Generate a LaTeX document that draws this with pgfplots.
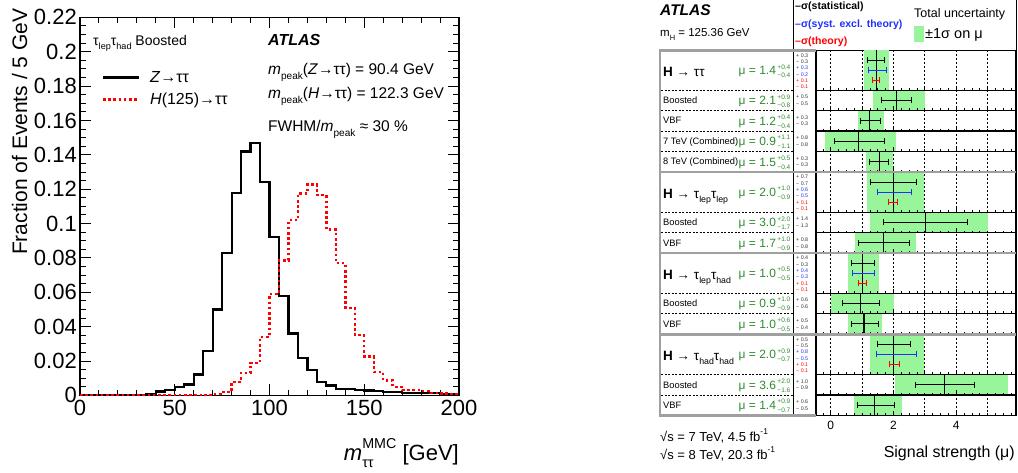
\documentclass[border=0pt]{standalone}
\usepackage{pgfplots}
\pgfplotsset{compat=1.18}
\usepackage{fontspec}
\setmainfont{Liberation Sans}
\definecolor{boxgreen}{HTML}{99F599}
\definecolor{txtgreen}{HTML}{2E8B2E}
\definecolor{sysblue}{HTML}{2030FF}
\definecolor{sepgray}{HTML}{A0A0A0}
\definecolor{numgray}{HTML}{333333}
\newcommand\fs[1]{\fontsize{#1}{#1}\selectfont}
\newcommand\lo[1]{\raisebox{-0.3em}{\scalebox{0.65}{#1}}}
\newcommand\hi[1]{\raisebox{0.55em}{\scalebox{0.65}{#1}}}
% number column entry: y, colour, text
\newcommand\nc[3]{\node[anchor=west,inner sep=0pt,font=\fs{5.3},text=#2] at (796,#1) {#3};}
% mu label: row middle, value, up, down
\newcommand\mulab[4]{%
  \node[anchor=base west,inner sep=0pt,font=\fs{12},text=txtgreen] at (738.5,{#1+4.5})
    {μ = #2\hspace{1.5pt}\makebox[0pt][l]{\raisebox{5.8pt}{\fs{6.5}#3}}\raisebox{-3pt}{\fs{6.5}#4}};}

\begin{document}
\begin{tikzpicture}
\begin{scope}[x=1pt,y=-1pt]
\path[use as bounding box] (0,0) rectangle (1018,472);
\end{scope}

% ---------------- left: mass distributions
\begin{axis}[
  at={(80pt,-395pt)}, anchor=south west,
  scale only axis, width=379pt, height=378pt,
  xmin=0, xmax=200, ymin=0, ymax=0.22,
  xtick={0,50,100,150,200}, xticklabels={0,50,100,150,200},
  minor x tick num=4,
  ytick={0,0.02,0.04,0.06,0.08,0.1,0.12,0.14,0.16,0.18,0.2,0.22},
  yticklabels={0,0.02,0.04,0.06,0.08,0.1,0.12,0.14,0.16,0.18,0.2,0.22},
  minor y tick num=3,
  major tick length=11pt, minor tick length=5.5pt,
  tick style={black,line width=1pt},
  axis line style={line width=1.2pt},
  /pgf/number format/assume math mode=true,
  ticklabel style={font=\fs{22}},
  xticklabel style={inner sep=0pt,yshift=-5pt},
  yticklabel style={inner sep=0pt,xshift=-3pt},
  ylabel={Fraction of Events / 5 GeV},
  ylabel style={at={(axis description cs:-0.1398,1.0238)},anchor=base east,font=\fs{21},inner sep=0pt},
  xlabel={\textit{m}\makebox[0pt][l]{\lo{ττ}}\hi{MMC} [GeV]},
  xlabel style={at={(axis description cs:1,-0.172)},anchor=base east,font=\fs{22},inner sep=0pt},
]
\addplot[const plot, black, line width=2.2pt] coordinates {
 (0,0) (5,0) (10,0) (15,0) (20,0) (25,0) (30,0) (35,0.001) (40,0.0023) (45,0.003)
 (50,0.005) (55,0.0064) (60,0.0122) (65,0.0258) (70,0.050) (75,0.083) (80,0.118)
 (85,0.142) (90,0.147) (95,0.124) (100,0.092) (105,0.058) (110,0.036) (115,0.022)
 (120,0.015) (125,0.0078) (130,0.0058) (135,0.0039) (140,0.0035) (145,0.003)
 (150,0.0028) (155,0.0025) (160,0.002) (165,0.002) (170,0.0015) (175,0.0015)
 (180,0.0015) (185,0.0012) (190,0.001) (195,0.001) (200,0.001)};
\addplot[const plot, red, line width=2.4pt, dash pattern=on 2.6pt off 2.6pt] coordinates {
 (0,0) (5,0) (10,0) (15,0) (20,0) (25,0) (30,0) (35,0) (40,0) (45,0) (50,0) (55,0)
 (60,0) (65,0.0003) (70,0.0008) (75,0.002) (80,0.0078) (85,0.013) (90,0.019)
 (95,0.034) (100,0.059) (105,0.0786) (110,0.102) (115,0.1175) (120,0.1227)
 (125,0.1165) (130,0.0965) (135,0.077) (140,0.051) (145,0.035) (150,0.0227)
 (155,0.0136) (160,0.0087) (165,0.005) (170,0.003) (175,0.003) (180,0.0025)
 (185,0.0015) (190,0.001) (195,0.0008) (200,0.0008)};
\end{axis}

% ---------------- right: signal strengths
\begin{axis}[
  at={(816pt,-415pt)}, anchor=south west,
  scale only axis, width=200pt, height=365pt,
  xmin=-0.47, xmax=5.91, ymin=50, ymax=415, y dir=reverse,
  axis line style={line width=1.2pt},
  ytick=\empty,
  xtick={0,1,2,3,4,5}, xticklabels={0,,2,,4,},
  major tick length=0pt,
  grid=major, grid style={black,line width=0.8pt,dash pattern=on 1.2pt off 2.8pt},
  ticklabel style={font=\fs{12},inner sep=0pt,yshift=-5.5pt},
  clip=false,
]
% total uncertainty boxes
\addplot[fill=boxgreen,draw=none] coordinates {(1.06,50) (1.87,50) (1.87,90) (1.06,90)} --cycle;
\addplot[fill=boxgreen,draw=none] coordinates {(1.36,90) (3.01,90) (3.01,110) (1.36,110)} --cycle;
\addplot[fill=boxgreen,draw=none] coordinates {(0.88,110) (1.70,110) (1.70,130.5) (0.88,130.5)} --cycle;
\addplot[fill=boxgreen,draw=none] coordinates {(-0.18,130.5) (2.08,130.5) (2.08,150.7) (-0.18,150.7)} --cycle;
\addplot[fill=boxgreen,draw=none] coordinates {(1.14,150.7) (1.98,150.7) (1.98,171.7) (1.14,171.7)} --cycle;
\addplot[fill=boxgreen,draw=none] coordinates {(1.15,171.7) (2.96,171.7) (2.96,211.7) (1.15,211.7)} --cycle;
\addplot[fill=boxgreen,draw=none] coordinates {(1.25,211.7) (5.01,211.7) (5.01,232.2) (1.25,232.2)} --cycle;
\addplot[fill=boxgreen,draw=none] coordinates {(0.78,232.2) (2.72,232.2) (2.72,252.7) (0.78,252.7)} --cycle;
\addplot[fill=boxgreen,draw=none] coordinates {(0.56,252.7) (1.55,252.7) (1.55,292.7) (0.56,292.7)} --cycle;
\addplot[fill=boxgreen,draw=none] coordinates {(0.00,292.7) (2.02,292.7) (2.02,313) (0.00,313)} --cycle;
\addplot[fill=boxgreen,draw=none] coordinates {(0.56,313) (1.63,313) (1.63,334) (0.56,334)} --cycle;
\addplot[fill=boxgreen,draw=none] coordinates {(1.25,334) (2.96,334) (2.96,374) (1.25,374)} --cycle;
\addplot[fill=boxgreen,draw=none] coordinates {(2.05,374) (5.65,374) (5.65,394.5) (2.05,394.5)} --cycle;
\addplot[fill=boxgreen,draw=none] coordinates {(0.75,394.5) (2.27,394.5) (2.27,415) (0.75,415)} --cycle;
% central values
\addplot[draw=none, mark=none, error bars/.cd, y dir=both, y explicit, error mark=none,
  error bar style={draw=black,line width=1.1pt}] coordinates {
 (1.45,70) +- (0,20)  (2.10,100) +- (0,10) (1.25,120.25) +- (0,10.25)
 (0.88,140.6) +- (0,10.1) (1.55,161.2) +- (0,10.5) (2.00,191.7) +- (0,20)
 (3.01,222) +- (0,10.25) (1.68,242.45) +- (0,10.25) (1.01,272.7) +- (0,20)
 (0.96,302.85) +- (0,10.15) (1.06,323.5) +- (0,10.5) (2.00,354) +- (0,20)
 (3.63,384.25) +- (0,10.25) (1.41,404.75) +- (0,10.25)};
% statistical
\addplot[draw=none, mark=none, error bars/.cd, x dir=both, x explicit, error mark=|,
  error bar style={draw=black,line width=1pt},
  error mark options={draw=black,line width=1pt,mark size=3pt}] coordinates {
 (1.45,60) += (0.28,0) -= (0.27,0)
 (2.10,100) += (0.48,0) -= (0.48,0)
 (1.25,120.25) += (0.35,0) -= (0.31,0)
 (0.88,140.6) += (0.85,0) -= (0.75,0)
 (1.55,161.2) += (0.29,0) -= (0.30,0)
 (2.00,181.7) += (0.72,0) -= (0.72,0)
 (3.01,222) += (1.36,0) -= (1.32,0)
 (1.68,242.45) += (0.83,0) -= (0.78,0)
 (1.01,262.7) += (0.37,0) -= (0.34,0)
 (0.96,302.85) += (0.59,0) -= (0.59,0)
 (1.06,323.5) += (0.46,0) -= (0.39,0)
 (2.00,344) += (0.53,0) -= (0.51,0)
 (3.63,384.25) += (0.97,0) -= (0.92,0)
 (1.41,404.75) += (0.61,0) -= (0.55,0)};
% systematic excluding theory
\addplot[draw=none, mark=none, error bars/.cd, x dir=both, x explicit, error mark=|,
  error bar style={draw=sysblue,line width=1pt},
  error mark options={draw=sysblue,line width=1pt,mark size=3pt}] coordinates {
 (1.45,70) += (0.34,0) -= (0.25,0)
 (2.00,191.7) += (0.58,0) -= (0.51,0)
 (1.01,272.7) += (0.39,0) -= (0.31,0)
 (2.00,354) += (0.74,0) -= (0.53,0)};
% theory
\addplot[draw=none, mark=none, error bars/.cd, x dir=both, x explicit, error mark=|,
  error bar style={draw=red,line width=1pt},
  error mark options={draw=red,line width=1pt,mark size=3pt}] coordinates {
 (1.45,80) += (0.12,0) -= (0.12,0)
 (2.00,201.7) += (0.13,0) -= (0.16,0)
 (1.01,282.7) += (0.12,0) -= (0.11,0)
 (2.00,364) += (0.18,0) -= (0.12,0)};
\end{axis}

\begin{scope}[x=1pt,y=-1pt]
% ---- left panel texts
\node[anchor=base west,inner sep=0pt,font=\fs{14}] at (93,45) {τ\lo{lep}τ\lo{had} Boosted};
\draw[black,line width=2.2pt] (103,77) -- (139,77);
\node[anchor=base west,inner sep=0pt,font=\fs{16}] at (150,82) {\textit{Z}→ττ};
\draw[red,line width=2.4pt,dash pattern=on 2.6pt off 2.6pt] (103,99) -- (139,99);
\node[anchor=base west,inner sep=0pt,font=\fs{16}] at (150,104) {\textit{H}(125)→ττ};
\node[anchor=base west,inner sep=0pt,font=\fs{16}\bfseries\itshape] at (268,45) {ATLAS};
\node[anchor=base west,inner sep=0pt,font=\fs{15.5}] at (268,74) {\textit{m}\lo{peak}(\textit{Z}→ττ) = 90.4 GeV};
\node[anchor=base west,inner sep=0pt,font=\fs{15.5}] at (268,98) {\textit{m}\lo{peak}(\textit{H}→ττ) = 122.3 GeV};
\node[anchor=base west,inner sep=0pt,font=\fs{15.5}] at (268,131) {FWHM/\textit{m}\lo{peak} ≈ 30 \%};

% ---- right panel header
\node[anchor=base west,inner sep=0pt,font=\fs{15.5}\bfseries\itshape] at (660,15) {ATLAS};
\node[anchor=base west,inner sep=0pt,font=\fs{11.5}] at (660,36.5) {m\lo{H} = 125.36 GeV};
\node[anchor=base west,inner sep=0pt,font=\fs{10.5}\bfseries] at (795,9.5) {–σ(statistical)};
\node[anchor=base west,inner sep=0pt,font=\fs{10.5}\bfseries,text=sysblue] at (795,27) {–σ(syst. excl. theory)};
\node[anchor=base west,inner sep=0pt,font=\fs{10.5}\bfseries,text=red] at (795,44.5) {–σ(theory)};
\node[anchor=base west,inner sep=0pt,font=\fs{12.5}] at (914,17.3) {Total uncertainty};
\fill[boxgreen] (914,26) rectangle (923.5,42);
\node[anchor=base west,inner sep=0pt,font=\fs{14.5}] at (925,38.5) {±1σ on μ};

% ---- table frame
\draw[black,line width=0.8pt] (793,0) -- (793,415);
\draw[black,line width=0.8pt] (1016,0) -- (1016,50);
\foreach \y in {90,110,130.5,150.7,211.7,232.2,292.7,313,374,394.5}{
  \draw[black,line width=0.6pt,dash pattern=on 2pt off 1.5pt] (661,\y) -- (793,\y);
  \draw[black,line width=1.2pt] (816,\y) -- (1016,\y);
}
\foreach \y in {90,110,130.5,150.7,171.7,211.7,232.2,252.7,292.7,313,334,374,394.5,415}{
  \foreach \m in {-0.25,0.25,0.5,...,1.75,2.25,2.5,...,3.75,4.25,4.5,...,5.75}{
    \draw[black,line width=0.6pt] ({830.73+31.35*\m},\y) -- ++(0,-2);}
  \foreach \m in {0,2,4}{
    \draw[black,line width=0.8pt] ({830.73+31.35*\m},\y) -- ++(0,-4.5);}
}
\foreach \y in {171.7,252.7,334}{
  \draw[sepgray,line width=2.2pt] (660,\y) -- (1016,\y);
}
\draw[sepgray,line width=2.2pt] (816,50) -- (660,50) -- (660,415) -- (816,415);

% ---- row names
\node[anchor=base west,inner sep=0pt,font=\fs{13.5}] at (663,76.5) {\textbf{H} → ττ};
\node[anchor=base west,inner sep=0pt,font=\fs{9.3}] at (663,103.3) {Boosted};
\node[anchor=base west,inner sep=0pt,font=\fs{9.3}] at (663,123.5) {VBF};
\node[anchor=base west,inner sep=0pt,font=\fs{9.3}] at (663,143.9) {7 TeV (Combined)};
\node[anchor=base west,inner sep=0pt,font=\fs{9.3}] at (663,164.5) {8 TeV (Combined)};
\node[anchor=base west,inner sep=0pt,font=\fs{13.5}] at (663,198) {\textbf{H} → τ\lo{lep}τ\lo{lep}};
\node[anchor=base west,inner sep=0pt,font=\fs{9.3}] at (663,225.3) {Boosted};
\node[anchor=base west,inner sep=0pt,font=\fs{9.3}] at (663,245.8) {VBF};
\node[anchor=base west,inner sep=0pt,font=\fs{13.5}] at (663,279) {\textbf{H} → τ\lo{lep}τ\lo{had}};
\node[anchor=base west,inner sep=0pt,font=\fs{9.3}] at (663,306.2) {Boosted};
\node[anchor=base west,inner sep=0pt,font=\fs{9.3}] at (663,326.8) {VBF};
\node[anchor=base west,inner sep=0pt,font=\fs{13.5}] at (663,360.3) {\textbf{H} → τ\lo{had}τ\lo{had}};
\node[anchor=base west,inner sep=0pt,font=\fs{9.3}] at (663,387.6) {Boosted};
\node[anchor=base west,inner sep=0pt,font=\fs{9.3}] at (663,408) {VBF};

% ---- mu labels
\mulab{70}{1.4}{+0.4}{−0.4}
\mulab{100}{2.1}{+0.9}{−0.8}
\mulab{120.25}{1.2}{+0.4}{−0.4}
\mulab{140.6}{0.9}{+1.1}{−1.1}
\mulab{161.2}{1.5}{+0.5}{−0.4}
\mulab{191.7}{2.0}{+1.0}{−0.9}
\mulab{222}{3.0}{+2.0}{−1.7}
\mulab{242.45}{1.7}{+1.0}{−0.9}
\mulab{272.7}{1.0}{+0.5}{−0.5}
\mulab{302.85}{0.9}{+1.0}{−0.9}
\mulab{323.5}{1.0}{+0.6}{−0.5}
\mulab{354}{2.0}{+0.9}{−0.7}
\mulab{384.25}{3.6}{+2.0}{−1.6}
\mulab{404.75}{1.4}{+0.9}{−0.7}

% ---- numbers column
\nc{55}{numgray}{+ 0.3}\nc{61.3}{numgray}{− 0.3}\nc{67.6}{sysblue}{+ 0.3}
\nc{74}{sysblue}{− 0.2}\nc{80.3}{red}{+ 0.1}\nc{86.6}{red}{− 0.1}
\nc{96.7}{numgray}{+ 0.5}\nc{103.3}{numgray}{− 0.5}
\nc{117}{numgray}{+ 0.3}\nc{123.5}{numgray}{− 0.3}
\nc{137.3}{numgray}{+ 0.8}\nc{143.9}{numgray}{− 0.8}
\nc{157.9}{numgray}{+ 0.3}\nc{164.5}{numgray}{− 0.3}
\nc{176.7}{numgray}{+ 0.7}\nc{183}{numgray}{− 0.7}\nc{189.3}{sysblue}{+ 0.6}
\nc{195.7}{sysblue}{− 0.5}\nc{202}{red}{+ 0.1}\nc{208.3}{red}{− 0.1}
\nc{218.7}{numgray}{+ 1.4}\nc{225.3}{numgray}{− 1.3}
\nc{239.2}{numgray}{+ 0.8}\nc{245.8}{numgray}{− 0.8}
\nc{257.7}{numgray}{+ 0.4}\nc{264}{numgray}{− 0.3}\nc{270.3}{sysblue}{+ 0.4}
\nc{276.7}{sysblue}{− 0.3}\nc{283}{red}{+ 0.1}\nc{289.3}{red}{− 0.1}
\nc{299.6}{numgray}{+ 0.6}\nc{306.2}{numgray}{− 0.6}
\nc{320.2}{numgray}{+ 0.5}\nc{326.8}{numgray}{− 0.4}
\nc{339}{numgray}{+ 0.5}\nc{345.3}{numgray}{− 0.5}\nc{351.6}{sysblue}{+ 0.8}
\nc{358}{sysblue}{− 0.5}\nc{364.3}{red}{+ 0.1}\nc{370.6}{red}{− 0.1}
\nc{381}{numgray}{+ 1.0}\nc{387.6}{numgray}{− 0.9}
\nc{401.5}{numgray}{+ 0.6}\nc{408}{numgray}{− 0.5}

% ---- bottom texts
\node[anchor=base west,inner sep=0pt,font=\fs{13}] at (660,441) {√s = 7 TeV, 4.5 fb\hi{-1}};
\node[anchor=base west,inner sep=0pt,font=\fs{13}] at (660,459) {√s = 8 TeV, 20.3 fb\hi{-1}};
\node[anchor=base east,inner sep=0pt,font=\fs{16}] at (1015,456.7) {Signal strength (μ)};
\end{scope}
\end{tikzpicture}
\end{document}
